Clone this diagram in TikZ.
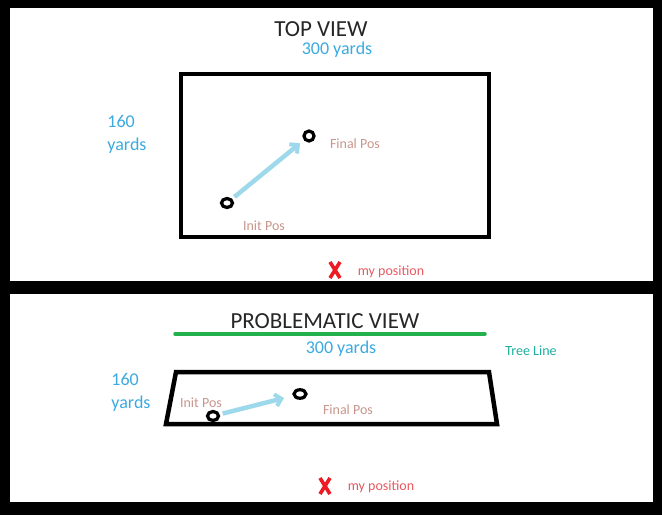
\documentclass[tikz,border=0pt]{standalone}
\usepackage{fontspec}
\setmainfont{Carlito}
\usetikzlibrary{arrows.meta,shapes.geometric,calc}
\definecolor{titlegray}{RGB}{38,38,38}
\definecolor{dimblue}{RGB}{60,170,225}
\definecolor{tanlabel}{RGB}{200,150,140}
\definecolor{arrowblue}{RGB}{157,217,234}
\definecolor{xred}{RGB}{237,28,36}
\definecolor{posred}{RGB}{232,90,98}
\definecolor{treegreen}{RGB}{34,177,76}
\definecolor{treeteal}{RGB}{30,175,160}
\tikzset{
  title/.style={font=\fontsize{23}{23}\selectfont, text=titlegray, inner sep=0pt},
  dimtext/.style={font=\fontsize{18}{23}\selectfont, text=dimblue, inner sep=0pt, align=left},
  poslabel/.style={font=\fontsize{14}{14}\selectfont, text=tanlabel, inner sep=0pt},
  mypos/.style={font=\fontsize{14}{14}\selectfont, text=posred, inner sep=0pt},
  ring/.style={ellipse, draw=black, line width=3.2pt, inner sep=0pt},
  movearrow/.style={draw=arrowblue, line width=4.5pt, -{Straight Barb[length=6pt,width=12pt,line width=4pt]}, shorten <=3pt, shorten >=5pt},
  redx/.style={draw=xred, line width=3.6pt},
  field/.style={draw=black, line width=4.5pt, line join=miter}
}
\begin{document}
\begin{tikzpicture}[x=1pt,y=-1pt]
\useasboundingbox (0,0) rectangle (662,515);
% frame
\fill[black] (0,0) rectangle (662,515);
\fill[white] (10,8) rectangle (653,281);
\fill[white] (10,294) rectangle (653,502);

% ---- TOP VIEW ----
\node[title] (t1) at (321,29) {TOP VIEW};
\node[dimtext] (w1) at (337,50) {300 yards};
\node[dimtext] (h1) at (127,134) {160\\yards};
\draw[field] (181,74) rectangle (489,237);
\node[ring, minimum height=9pt, minimum width=11pt] (ip1) at (227,203) {};
\node[ring, minimum height=10pt, minimum width=10pt] (fp1) at (309,136) {};
\draw[movearrow] (ip1) -- (fp1);
\node[poslabel] (fl1) at (355,144) {Final Pos};
\node[poslabel] (il1) at (264,226) {Init Pos};
\coordinate (x1) at (335,270);
\draw[redx] ($(x1)+(-5,-8)$) -- ($(x1)+(5,8)$);
\draw[redx] ($(x1)+(5,-8)$) -- ($(x1)+(-5,8)$);
\node[mypos] (m1) at (391,272) {my position};

% ---- PROBLEMATIC VIEW ----
\node[title] (t2) at (325,321) {PROBLEMATIC VIEW};
\coordinate (g1) at (175,334);
\coordinate (g2) at (485,334);
\draw[treegreen, line width=3.5pt, line cap=round] (g1) -- (g2);
\node[dimtext] (w2) at (341,349) {300 yards};
\node[font=\fontsize{14}{14}\selectfont, text=treeteal, inner sep=0pt] (tl) at (531,351) {Tree Line};
\node[dimtext] (h2) at (131,392) {160\\yards};
\draw[field] (176,372) -- (489,372) -- (497,424) -- (166,424) -- cycle;
\node[ring, minimum height=9pt, minimum width=11pt] (ip2) at (213,416) {};
\node[ring, minimum height=8.5pt, minimum width=12pt] (fp2) at (300,394) {};
\draw[movearrow, shorten >=9pt] (ip2) -- (fp2);
\node[poslabel] (il2) at (201,403) {Init Pos};
\node[poslabel] (fl2) at (348,410) {Final Pos};
\coordinate (x2) at (325,486);
\draw[redx] ($(x2)+(-5,-8)$) -- ($(x2)+(5,8)$);
\draw[redx] ($(x2)+(5,-8)$) -- ($(x2)+(-5,8)$);
\node[mypos] (m2) at (381,487) {my position};
\end{tikzpicture}
\end{document}
